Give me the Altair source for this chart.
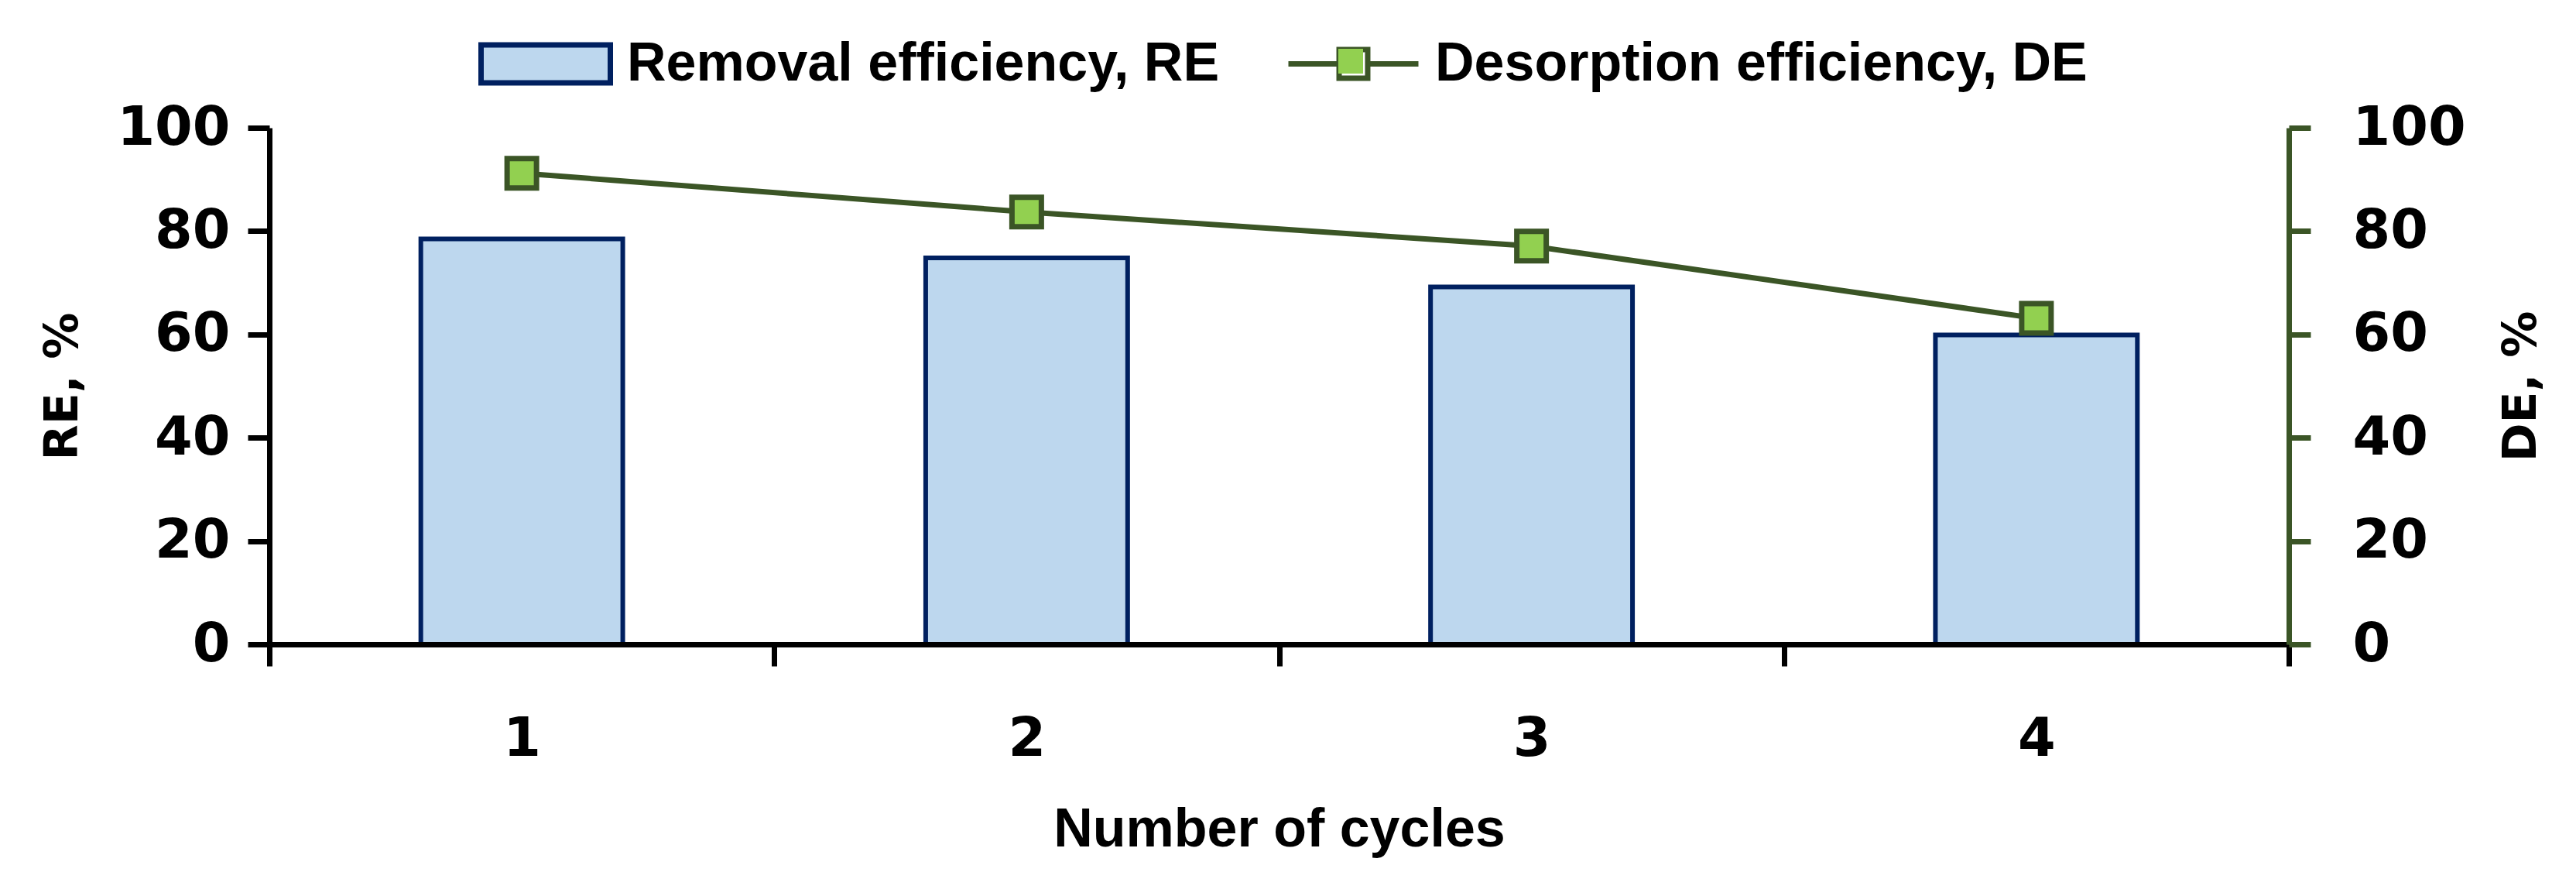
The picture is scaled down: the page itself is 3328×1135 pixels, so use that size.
import altair as alt
import pandas as pd

cycles = ["1", "2", "3", "4"]
re_values = [78.5, 74.8, 69.2, 59.9]
de_values = [91.2, 83.7, 77.1, 63.1]
re_label = "Removal efficiency, RE"
de_label = "Desorption efficiency, DE"
marker_key = "DE marker"
y_ticks = [0, 20, 40, 60, 80, 100]

df = pd.DataFrame({
    "cycle": cycles,
    "RE": re_values,
    "DE": de_values,
    "re_series": [re_label] * len(cycles),
    "de_series": [de_label] * len(cycles),
    "de_marker": [marker_key] * len(cycles),
})

NUM = "DejaVu Sans"
TXT = "Liberation Sans"
DARK_GREEN = "#3B5526"
LIGHT_GREEN = "#92D050"
BAR_FILL = "#BDD7EE"
NAVY = "#002060"

W, H = 2609, 667

x_enc = alt.X(
    "cycle:N", sort=cycles,
    scale=alt.Scale(paddingInner=0, paddingOuter=0),
    axis=alt.Axis(
        title="Number of cycles", labelAngle=0, tickBand="extent",
        tickSize=28, tickWidth=7, tickColor="black",
        domainColor="black", domainWidth=7,
        labelFont=NUM, labelFontSize=70, labelFontWeight="bold", labelColor="black",
        labelPadding=60,
        titleFont=TXT, titleFontSize=70, titleFontWeight="bold", titleColor="black",
        titleX=W / 2, titleY=239, titleBaseline="middle", titleAlign="center",
        zindex=1,
    ),
)

left_axis = alt.Axis(
    values=y_ticks, title="RE, %", orient="left", grid=False,
    tickSize=28, tickWidth=7, tickColor="black", domainColor="black", domainWidth=7,
    labelFont=NUM, labelFontSize=70, labelFontWeight="bold", labelColor="black",
    labelPadding=23,
    titleFont=NUM, titleFontSize=60, titleFontWeight="bold", titleColor="black",
    titleAngle=270, titleX=-267, titleY=H / 2, titleBaseline="middle", titleAlign="center",
    zindex=1,
)

right_axis = alt.Axis(
    values=y_ticks, title="DE, %", orient="right", grid=False,
    tickSize=28, tickWidth=7, tickColor=DARK_GREEN, domainColor=DARK_GREEN, domainWidth=7,
    labelFont=NUM, labelFontSize=70, labelFontWeight="bold", labelColor="black",
    labelPadding=54,
    titleFont=NUM, titleFontSize=60, titleFontWeight="bold", titleColor="black",
    titleAngle=270, titleX=300, titleY=H / 2, titleBaseline="middle", titleAlign="center",
    zindex=1,
)

bars = alt.Chart(df).mark_bar(
    stroke=NAVY, strokeWidth=6, width=alt.RelativeBandSize(band=0.4)
).encode(
    x=x_enc,
    y=alt.Y("RE:Q", scale=alt.Scale(domain=[0, 100]), axis=left_axis),
    fill=alt.Fill(
        "re_series:N", scale=alt.Scale(domain=[re_label], range=[BAR_FILL]),
        legend=alt.Legend(
            title=None, orient="none", legendX=270, legendY=-169.5, padding=0,
            symbolType="M-1,-0.293H1V0.293H-1Z", symbolSize=27889,
            symbolStrokeColor=NAVY, symbolStrokeWidth=7, symbolOpacity=1,
            labelFont=TXT, labelFontSize=70, labelFontWeight="bold", labelColor="black",
            labelOffset=18, labelLimit=0,
        ),
    ),
)

# legend symbol: line segments with a square ring in the middle
line_marker_path = "M-1,0H-0.22M0.22,0H1M-0.22,-0.22H0.22V0.22H-0.22Z"

line = alt.Chart(df).mark_line(strokeWidth=7).encode(
    x=alt.X("cycle:N", sort=cycles),
    y=alt.Y("DE:Q", scale=alt.Scale(domain=[0, 100]), axis=right_axis),
    stroke=alt.Stroke(
        "de_series:N", scale=alt.Scale(domain=[de_label], range=[DARK_GREEN]),
        legend=alt.Legend(
            title=None, orient="none", legendX=1313, legendY=-170, padding=0,
            symbolType=line_marker_path, symbolSize=28224, symbolStrokeWidth=7,
            symbolFillColor="transparent",
            labelFont=TXT, labelFontSize=70, labelFontWeight="bold", labelColor="black",
            labelOffset=18, labelLimit=0,
        ),
    ),
)

points = alt.Chart(df).mark_point(
    shape="square", filled=False, fill=LIGHT_GREEN, stroke=DARK_GREEN,
    strokeWidth=7, size=1444, opacity=1, fillOpacity=1, strokeOpacity=1,
).encode(
    x=alt.X("cycle:N", sort=cycles),
    y=alt.Y("DE:Q", scale=alt.Scale(domain=[0, 100]), axis=right_axis),
    shape=alt.Shape(
        "de_marker:N", scale=alt.Scale(domain=[marker_key], range=["square"]),
        legend=alt.Legend(
            title=None, orient="none", legendX=1381, legendY=-102, padding=0,
            symbolSize=1024, symbolFillColor=LIGHT_GREEN, symbolStrokeColor="transparent",
            symbolStrokeWidth=0, symbolOpacity=1,
            labelFontSize=1, labelColor="transparent", labelLimit=0,
        ),
    ),
)

chart = alt.layer(bars, alt.layer(line, points)).resolve_scale(
    y="independent"
).properties(
    width=W, height=H,
    autosize=alt.AutoSizeParams(type="none"),
    padding={"left": 340, "top": 157, "right": 363, "bottom": 295},
    background="white",
).configure_view(stroke=None)

chart.save("out.html", embed_options={"renderer": "svg", "actions": False})
